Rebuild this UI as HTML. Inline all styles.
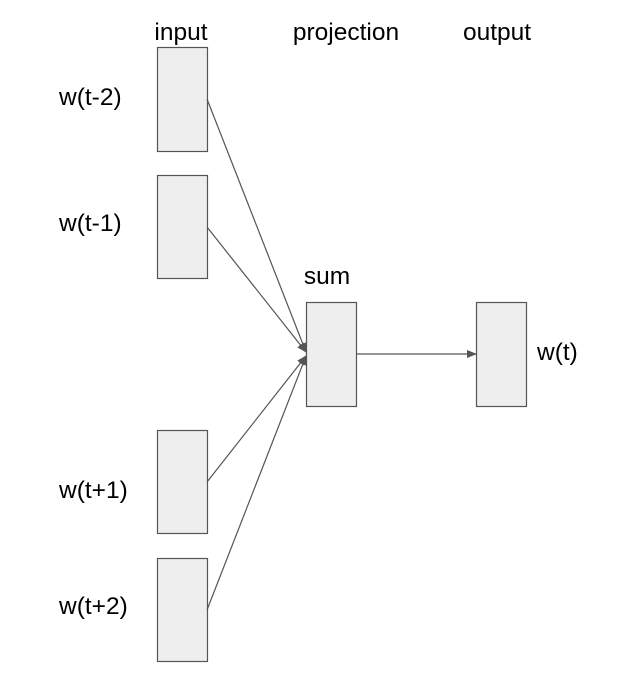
<!DOCTYPE html>
<html><head><meta charset="utf-8"><style>
body{margin:0;background:#fff}
svg text{font-family:"Liberation Sans",sans-serif;font-size:24.5px;fill:#000}
</style></head><body>
<svg width="632" height="678" viewBox="0 0 632 678">
<defs><marker id="ah" markerWidth="10" markerHeight="8" refX="9" refY="4" orient="auto" markerUnits="userSpaceOnUse"><path d="M0,0 L10,4 L0,8 z" fill="#555"/></marker></defs>
<text x="181" y="40" text-anchor="middle">input</text>
<text x="346" y="40" text-anchor="middle">projection</text>
<text x="497" y="40" text-anchor="middle">output</text>
<g fill="#eeeeee" stroke="#555" stroke-width="1.2">
<rect x="157.5" y="47.5" width="50" height="104"/>
<rect x="157.5" y="175.5" width="50" height="103"/>
<rect x="157.5" y="430.5" width="50" height="103"/>
<rect x="157.5" y="558.5" width="50" height="103"/>
<rect x="306.5" y="302.5" width="50" height="104"/>
<rect x="476.5" y="302.5" width="50" height="104"/>
</g>
<g stroke="#555" stroke-width="1.2" fill="none">
<line x1="207" y1="99" x2="306" y2="352" marker-end="url(#ah)"/>
<line x1="207" y1="227" x2="306" y2="352" marker-end="url(#ah)"/>
<line x1="207" y1="482" x2="306" y2="356" marker-end="url(#ah)"/>
<line x1="207" y1="610" x2="306" y2="356" marker-end="url(#ah)"/>
<line x1="356" y1="354" x2="476" y2="354" marker-end="url(#ah)"/>
</g>
<text x="59" y="105">w(t-2)</text>
<text x="59" y="231">w(t-1)</text>
<text x="59" y="498">w(t+1)</text>
<text x="59" y="614">w(t+2)</text>
<text x="327" y="284" text-anchor="middle">sum</text>
<text x="537" y="360">w(t)</text>
</svg>
</body></html>
